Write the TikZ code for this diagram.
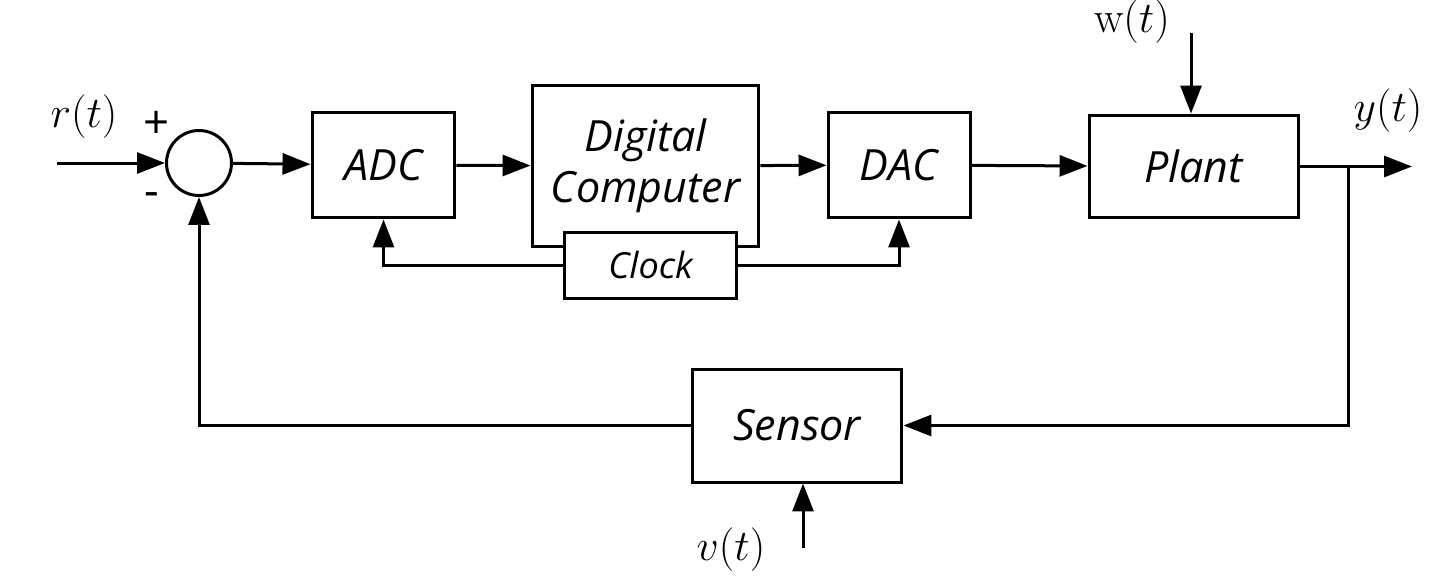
\documentclass[tikz,border=0pt]{standalone}
\usepackage{fontspec}
\setsansfont{Open Sans}
\usetikzlibrary{arrows.meta}
\begin{document}
\begin{tikzpicture}[x=0.02cm, y=-0.02cm, line width=0.06cm,
          block/.style={draw, rectangle, inner sep=0pt, align=center, font=\fontsize{24.5}{29}\selectfont\sffamily\itshape},
          sum/.style={draw, circle, minimum size=1.3cm, inner sep=0pt},
          lbl/.style={inner sep=0pt, font=\fontsize{25}{30}\selectfont},
          sign/.style={inner sep=0pt, font=\fontsize{26}{30}\selectfont\sffamily},
          >={Triangle[length=0.56cm, width=0.42cm]}]
          \useasboundingbox (0,0) rectangle (1442,582);
          % blokke
          \node(sum) [sum] at (199, 163) {};
          \node(adc) [block, minimum width=2.86cm, minimum height=2.12cm] at (383.5, 165) {ADC};
          \node(dc) [block, minimum width=4.54cm, minimum height=3.24cm] at (645.5, 166) {Digital\\Computer};
          \node(clock) [block, fill=white, minimum width=3.46cm, minimum height=1.32cm, font=\fontsize{20.5}{24}\selectfont\sffamily\itshape] at (650.5, 265) {Clock};
          \node(dac) [block, minimum width=2.84cm, minimum height=2.12cm] at (899, 165) {DAC};
          \node(plant) [block, minimum width=4.18cm, minimum height=2.06cm] at (1193.5, 166.5) {Plant};
          \node(sensor) [block, minimum width=4.2cm, minimum height=2.26cm] at (797, 425.5) {Sensor};
          % frie ender
          \coordinate(rin) at (57, 163);
          \coordinate(yout) at (1412, 166.5);
          \coordinate(br) at (1348, 166.5);
          \coordinate(win) at (1191, 33);
          \coordinate(vin) at (803, 548);
          % tekster
          \node(r) [lbl] at (84, 117) {$r(t)$};
          \node(plus) [sign] at (157, 125) {+};
          \node(minus) [sign] at (152, 200) {-};
          \node(w) [lbl] at (1132, 22) {$\mathrm{w}(t)$};
          \node(y) [lbl] at (1388, 111) {$y(t)$};
          \node(v) [lbl] at (731, 550) {$v(t)$};
          % forbindelser
          \draw[->] (rin) -- (sum.west);
          \draw[->] (sum) -- (adc);
          \draw[->] (adc) -- (dc);
          \draw[->] (dc) -- (dac);
          \draw[->] (dac) -- (plant);
          \draw[->] (plant) -- (yout);
          \draw[->] (br) |- (sensor.east);
          \draw[->] (sensor.west) -| (sum.south);
          \draw[->] (clock.west) -| (adc.south);
          \draw[->] (clock.east) -| (dac.south);
          \draw[->] (win) -- (win |- plant.north);
          \draw[->] (vin) -- (vin |- sensor.south);
        \end{tikzpicture}
\end{document}
